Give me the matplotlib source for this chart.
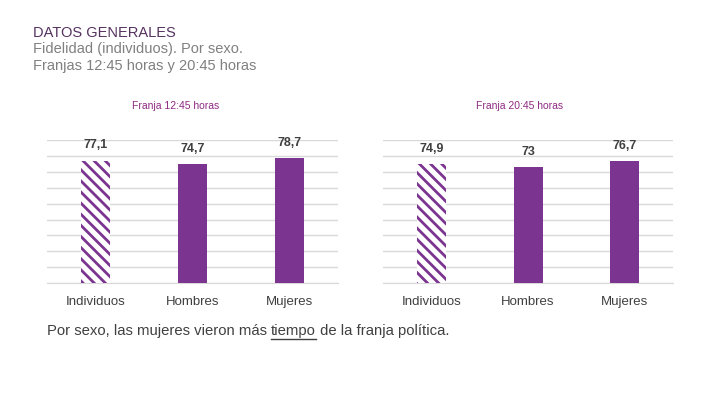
import matplotlib
matplotlib.use("Agg")
import matplotlib.pyplot as plt

# data
categories = ["Individuos", "Hombres", "Mujeres"]
vals_1245 = [77.1, 74.7, 78.7]
vals_2045 = [74.9, 73, 76.7]
labels_1245 = ["77,1", "74,7", "78,7"]
labels_2045 = ["74,9", "73", "76,7"]
panel_titles = ["Franja 12:45 horas", "Franja 20:45 horas"]

purple = "#7b3590"
grid_col = "#d9d9d9"
plt.rcParams["font.family"] = ["Liberation Sans", "DejaVu Sans"]
plt.rcParams["hatch.linewidth"] = 2.0
plt.rcParams["hatch.color"] = purple

fig = plt.figure(figsize=(7.2, 4.05), dpi=100)

# header text
fig.text(0.046, 0.918, "DATOS GENERALES", fontsize=10.5, color="#55325f", va="center")
fig.text(0.046, 0.880, "Fidelidad (individuos). Por sexo.", fontsize=10.5, color="#808080", va="center")
fig.text(0.046, 0.838, "Franjas 12:45 horas y 20:45 horas", fontsize=10.5, color="#808080", va="center")

axes_pos = [[0.0653, 0.301, 0.404, 0.353], [0.532, 0.301, 0.403, 0.353]]
title_x = [0.244, 0.722]

for i, (vals, labs) in enumerate([(vals_1245, labels_1245), (vals_2045, labels_2045)]):
    ax = fig.add_axes(axes_pos[i])
    x = range(len(categories))
    for j in x:
        if j == 0:
            ax.bar(j, vals[j], width=0.3, facecolor="white", edgecolor=purple,
                   hatch="\\\\\\", linewidth=0, zorder=3)
        else:
            ax.bar(j, vals[j], width=0.3, color=purple, zorder=3)
        ax.annotate(labs[j], (j, vals[j]), xytext=(0, 11), textcoords="offset points",
                    ha="center", va="center", fontsize=9, fontweight="bold",
                    color="#404040")
    ax.set_ylim(0, 90)
    ax.set_xlim(-0.5, 2.5)
    ax.set_yticks(range(0, 91, 10))
    ax.yaxis.grid(True, color=grid_col, linewidth=1)
    ax.set_axisbelow(True)
    ax.tick_params(left=False, labelleft=False, bottom=False)
    ax.set_xticks(list(x))
    ax.set_xticklabels(categories, fontsize=9.5, color="#404040")
    ax.tick_params(axis="x", pad=6)
    for s in ["top", "right", "left"]:
        ax.spines[s].set_visible(False)
    ax.spines["bottom"].set_color(grid_col)
    fig.text(title_x[i], 0.738, panel_titles[i], fontsize=7.5, color="#8e2a82",
             ha="center", va="center")

# footer note with underlined word
t1 = fig.text(0.065, 0.182, "Por sexo, las mujeres vieron más ", fontsize=10.7,
              color="#404040", va="center")
fig.canvas.draw()
r = fig.canvas.get_renderer()
bb = t1.get_window_extent(r)
x2 = bb.x1 / fig.bbox.width
t2 = fig.text(x2, 0.182, "tiempo", fontsize=10.7, color="#404040", va="center")
bb2 = t2.get_window_extent(r)
fig.add_artist(plt.Line2D([x2, bb2.x1 / fig.bbox.width], [0.164, 0.164],
                          color="#404040", linewidth=1, transform=fig.transFigure))
fig.text(bb2.x1 / fig.bbox.width, 0.182, " de la franja política.", fontsize=10.7,
         color="#404040", va="center")

plt.savefig("out.png", dpi=100)
